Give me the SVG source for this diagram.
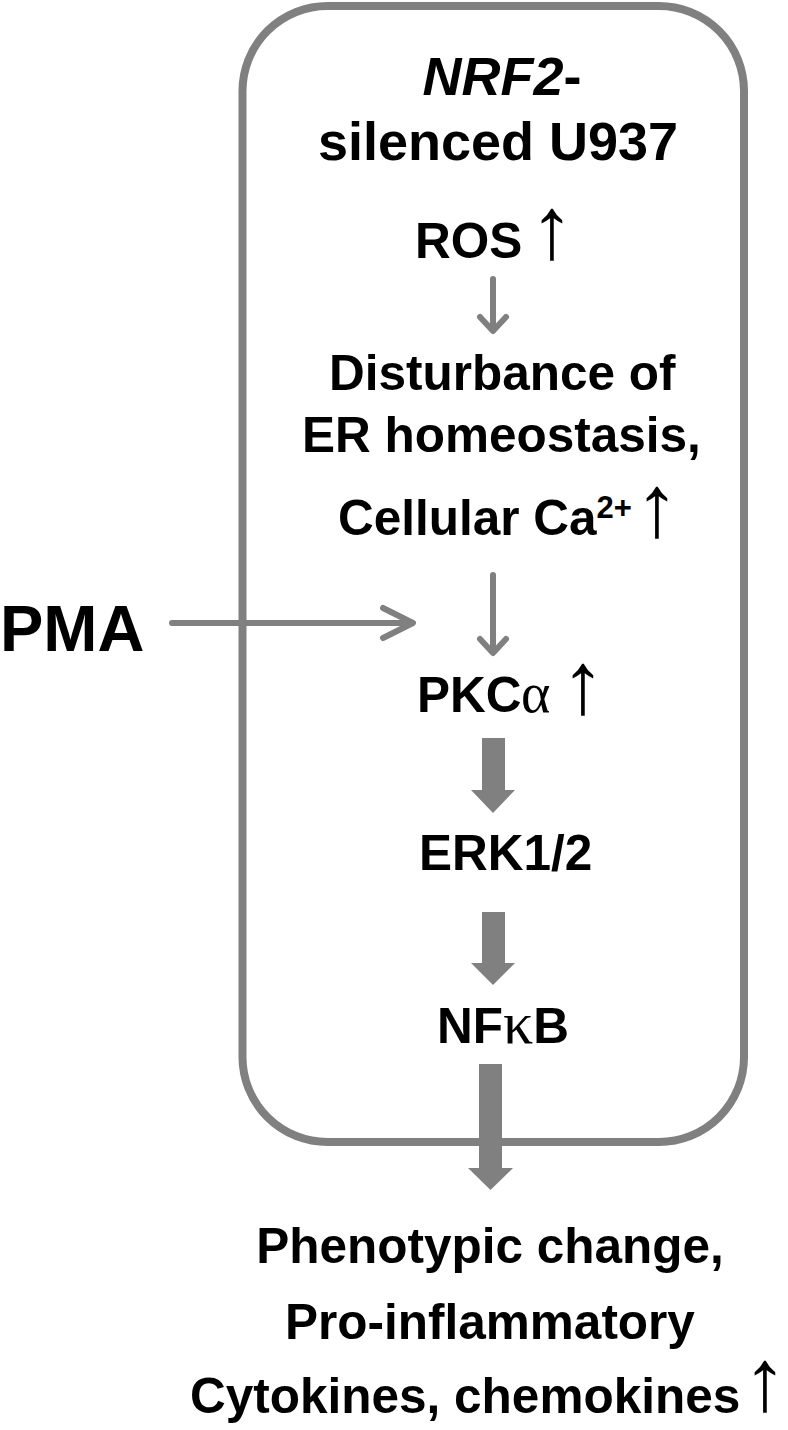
<svg xmlns="http://www.w3.org/2000/svg" width="788" height="1430" viewBox="0 0 788 1430">
<style>
.t{font-family:"Liberation Sans",Arial,sans-serif;font-weight:bold;font-size:49.5px;fill:#000}
.h{font-family:"Liberation Sans",Arial,sans-serif;font-weight:bold;font-size:54px;fill:#000}
.p{font-family:"Liberation Sans",Arial,sans-serif;font-weight:bold;font-size:65px;fill:#000}
.up{font-family:"Liberation Serif","Times New Roman",serif;font-weight:normal;font-size:88px;fill:#000}
.g{font-family:"Liberation Serif","Times New Roman",serif;font-weight:normal;fill:#000}
.thin{stroke:#808080;stroke-width:6;fill:none;stroke-linecap:round;stroke-linejoin:round}
.thick{fill:#808080;stroke:none}
</style>
<rect width="788" height="1430" fill="#fff"/>
<g id="cell">
<rect x="242.5" y="6" width="501.5" height="1136" rx="85" ry="85" fill="none" stroke="#808080" stroke-width="8"/>
</g>
<g id="title">
<text class="h" x="502" y="95" text-anchor="middle"><tspan font-style="italic">NRF2</tspan>-</text>
<text class="h" x="498" y="160" text-anchor="middle">silenced U937</text>
</g>
<g id="ros">
<text class="t" x="415" y="258">ROS</text>
<text class="up" x="530" y="258">↑</text>
</g>
<g id="er">
<text class="t" x="329" y="390">Disturbance of</text>
<text class="t" x="302" y="452">ER homeostasis,</text>
<text class="t" x="338" y="535">Cellular Ca<tspan font-size="31" dy="-17">2+</tspan></text>
<text class="up" x="635" y="536">↑</text>
</g>
<g id="pma">
<text class="p" x="0" y="651">PMA</text>
</g>
<g id="pkc">
<text class="t" x="417" y="712">PKC</text>
<text class="g" x="521" y="712" font-size="56">α</text>
<text class="up" x="561" y="713">↑</text>
</g>
<g id="erk">
<text class="t" x="419" y="870">ERK1/2</text>
</g>
<g id="nfkb">
<text class="t" x="437" y="1043">NF<tspan class="g" font-size="60">κ</tspan>B</text>
</g>
<g id="outcome">
<text class="t" x="490" y="1263" text-anchor="middle">Phenotypic change,</text>
<text class="t" x="490" y="1339" text-anchor="middle">Pro-inflammatory</text>
<text class="t" x="190" y="1413">Cytokines, chemokines</text>
<text class="up" x="787" y="1410" text-anchor="end">↑</text>
</g>
<g id="connectors">
<path class="thin" d="M493 279 V330 M480 317 L493 331 L506 317"/>
<path class="thin" d="M493 575 V652 M480 639 L493 653 L506 639"/>
<path class="thin" d="M172 623 H411 M383 608 L413 623 L383 638" stroke-width="7"/>
<polygon class="thick" points="482,738 505,738 505,790 515,790 493,813 471,790 482,790"/>
<polygon class="thick" points="482,912 505,912 505,963 515,963 493,985 471,963 482,963"/>
<polygon class="thick" points="479,1064 502,1064 502,1168 513,1168 490.5,1190 468,1168 479,1168"/>
</g>
</svg>
